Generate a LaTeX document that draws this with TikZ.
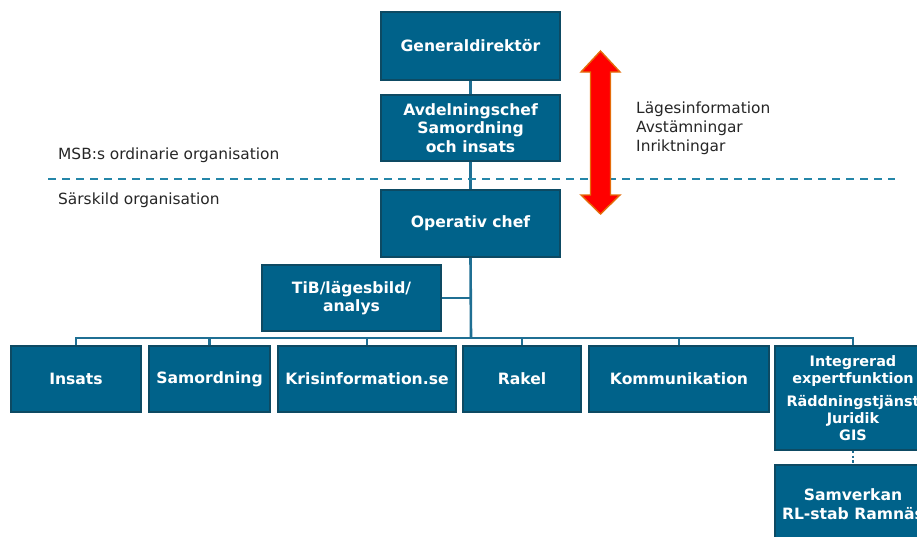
\documentclass[tikz,border=0pt]{standalone}
\usepackage{fontspec}
\setmainfont{DejaVu Sans}
\begin{document}
\begin{tikzpicture}[x=1pt,y=-1pt,
  box/.style={draw=boxedge,line width=1.6pt,fill=boxfill,text=white,font=\fontsize{15.6}{18.5}\selectfont\bfseries,align=center,inner sep=0pt,anchor=center},
  conn/.style={draw=connc,line width=2.6pt},
  lbl/.style={font=\fontsize{15.4}{19}\selectfont,text=black!85,anchor=west,align=left,inner sep=0pt}]
\definecolor{boxfill}{HTML}{00628A}
\definecolor{boxedge}{HTML}{0D4A63}
\definecolor{connc}{HTML}{1F6F93}
\definecolor{dashc}{HTML}{2486A8}
\definecolor{arrowedge}{HTML}{E46C0A}
\useasboundingbox (0,0) rectangle (917,536);
\clip (0,0) rectangle (917,536);
% nodes
\node[box,minimum width=179pt,minimum height=68pt] (gd) at (470.5,46) {Generaldirektör};
\node[box,minimum width=179pt,minimum height=66pt] (ac) at (470.5,128) {Avdelningschef\\Samordning\\och insats};
\node[box,minimum width=179pt,minimum height=67pt] (oc) at (470.5,223.5) {Operativ chef};
\node[box,minimum width=179pt,minimum height=66pt] (tib) at (351.5,298) {TiB/lägesbild/\\analys};
\node[box,minimum width=130pt,minimum height=66pt] (ins) at (76,379) {Insats};
\node[box,minimum width=121pt,minimum height=66pt] (sam) at (209.5,379) {Samordning};
\node[box,minimum width=178pt,minimum height=66pt] (kri) at (367,379) {Krisinformation.se};
\node[box,minimum width=118pt,minimum height=66pt] (rak) at (522,379) {Rakel};
\node[box,minimum width=180pt,minimum height=66pt] (kom) at (679,379) {Kommunikation};
\node[box,minimum width=156pt,minimum height=104pt,font=\fontsize{14.4}{16.8}\selectfont\bfseries] (ieg) at (853,398) {Integrerad\\expertfunktion\\[7pt]Räddningstjänst\\Juridik\\GIS};
\node[box,minimum width=156pt,minimum height=78pt] (svk) at (853,504) {Samverkan\\RL-stab Ramnäs};
% connectors
\coordinate (bus) at (471,338);
\coordinate (tibj) at (471,298);
\draw[conn] (gd.south) -- (ac.north);
\draw[conn] (ac.south) -- (oc.north);
\draw[conn] (oc.south) -- (bus);
\draw[conn] (tib.east) -- (tibj);
\draw[conn] (ins.north) -- (ins.north |- bus) -- (ieg.north |- bus) -- (ieg.north);
\draw[conn] (sam.north) -- (sam.north |- bus);
\draw[conn] (kri.north) -- (kri.north |- bus);
\draw[conn] (rak.north) -- (rak.north |- bus);
\draw[conn] (kom.north) -- (kom.north |- bus);
\draw[conn,line width=2.4pt,dash pattern=on 2.4pt off 2.4pt] (ieg.south) -- (svk.north);
% dashed separator
\coordinate (dl) at (48,179);
\coordinate (dr) at (895,179);
\draw[dashc,line width=1.6pt,dash pattern=on 8pt off 6pt] (dl) -- (dr);
% labels
\node[lbl] (msb) at (58,155) {MSB:s ordinarie organisation};
\node[lbl] (sar) at (58,200) {Särskild organisation};
\node[lbl] (info) at (636,128) {Lägesinformation\\Avstämningar\\Inriktningar};
% red double arrow
\draw[arrowedge,line width=1.4pt,fill=red,line join=miter]
  (600.5,51) -- (620,72) -- (610.5,72) -- (610.5,195) -- (620,195) -- (600.5,214)
  -- (581,195) -- (590.5,195) -- (590.5,72) -- (581,72) -- cycle;
\end{tikzpicture}
\end{document}
